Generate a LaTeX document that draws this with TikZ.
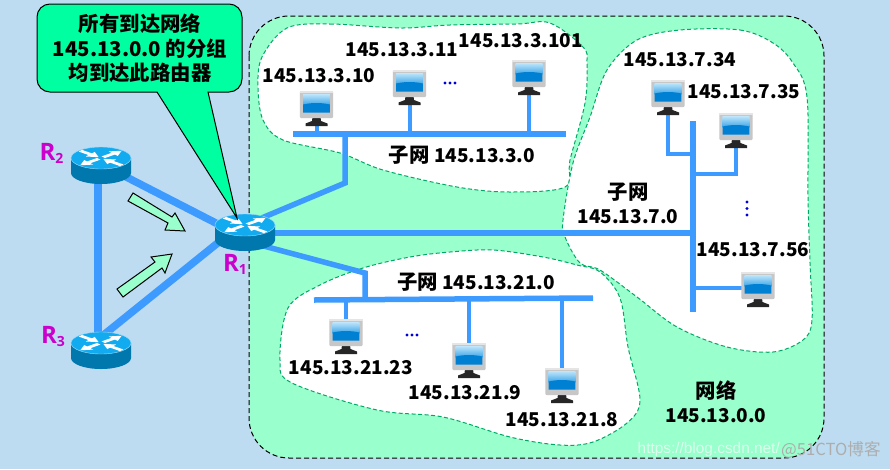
\documentclass[tikz,border=0pt]{standalone}
\usepackage{fontspec}
\setmainfont{Noto Sans CJK SC}
\newfontfamily\wmfont{Liberation Sans}
\newfontfamily\rfont{Open Sans}
\newcommand{\zhf}[1]{{\fontsize{20.4}{24}\selectfont #1}}
\definecolor{bgblue}{HTML}{BDDCF2}
\definecolor{netgreen}{HTML}{99FFCC}
\definecolor{blobline}{HTML}{00A866}
\definecolor{linkblue}{HTML}{3D9BFF}
\definecolor{calloutgreen}{HTML}{00FFA0}
\definecolor{rtop}{HTML}{12ABF0}
\definecolor{rbody}{HTML}{0078AE}
\definecolor{rmag}{HTML}{CC00CC}
\definecolor{scrtop}{HTML}{BFE6FB}
\definecolor{scrmid}{HTML}{3FA6E8}
\definecolor{scrlow}{HTML}{0080D2}
\definecolor{dotblue}{HTML}{0000D8}
\tikzset{
  x=1pt,y=-1pt,
  blob/.style={draw=blobline,fill=white,line width=1pt,dash pattern=on 4pt off 2.5pt},
  link/.style={draw=linkblue,line width=7.5pt},
  trunk/.style={draw=linkblue,line width=5.5pt},
  wire/.style={draw=linkblue,line width=4pt},
  lab/.style={inner sep=0pt,font=\fontsize{19}{24}\selectfont\bfseries,text=black,align=center},
  rlab/.style={inner sep=0pt,font=\fontsize{24}{24}\selectfont\rfont\bfseries,text=rmag},
  blockarrow/.style={draw=black,fill=netgreen,line width=1pt,line join=miter},
  dotmark/.style={fill=dotblue,draw=none},
  router/.pic={
    \fill[rbody] (-30,0) -- (-30,15) arc[start angle=180,end angle=360,x radius=30pt,y radius=11pt] -- (30,0) -- cycle;
    \draw[fill=rtop,line width=.4pt,draw=white!60!rtop] (0,0) ellipse[x radius=30pt,y radius=11pt];
    \foreach \a in {40,220}
      \fill[white,yscale=.42,rotate=\a] (3,-2.6) -- (16,-2.6) -- (16,-7) -- (27,0) -- (16,7) -- (16,2.6) -- (3,2.6) -- cycle;
    \foreach \a in {140,-40}
      \fill[white,yscale=.42,rotate=\a] (27,-2.6) -- (14,-2.6) -- (14,-7) -- (3,0) -- (14,7) -- (14,2.6) -- (27,2.6) -- cycle;
  },
  computer/.pic={
    \fill[black!85] (-4,26) -- (4,26) -- (4.5,30) -- (11,32.5) -- (11,35) -- (-11,35) -- (-11,32.5) -- (-4.5,30) -- cycle;
    \fill[black!22,rounded corners=1pt] (-16.7,0) rectangle (16.7,27);
    \fill[black!10] (-16.7,0) rectangle (16.7,1.5);
    \shade[top color=scrtop,bottom color=scrmid] (-13.3,3) rectangle (13.3,14);
    \fill[scrlow] (-13.3,13.5) .. controls (-5,11.5) and (5,11.5) .. (13.3,13.5) -- (13.3,21.5) -- (-13.3,21.5) -- cycle;
  }
}
\begin{document}
\begin{tikzpicture}
\path[use as bounding box,fill=bgblue] (0,0) rectangle (890,469);
% junctions and end points
\coordinate (R1) at (245,225);
\coordinate (R2) at (101,158);
\coordinate (R3) at (101,343);
\coordinate (R1a) at (245,238);
\coordinate (R2a) at (101,164);
\coordinate (R3a) at (101,337);
\coordinate (R1b) at (245,221);
\coordinate (R1c) at (245,233);
\coordinate (R1d) at (245,241);
\coordinate (t1) at (345,183);
\coordinate (t1b) at (345,134);
\coordinate (t2) at (693,233);
\coordinate (t3) at (365,273);
\coordinate (t3b) at (365,299);
\coordinate (b1L) at (293,134);
\coordinate (b1R) at (566,134);
\coordinate (b2T) at (693,121);
\coordinate (b2B) at (693,312);
\coordinate (b3L) at (314,300);
\coordinate (b3R) at (593,298);
\coordinate (j34) at (693,154);
\coordinate (j35) at (693,174);
\coordinate (j56) at (693,288);
\coordinate (l23a) at (98,170);
\coordinate (l23b) at (98,335);
\coordinate (pc1) at (316.5,91);
\coordinate (pc2) at (409.5,70);
\coordinate (pc3) at (529,60);
\coordinate (pc34) at (668,80);
\coordinate (pc35) at (736,113);
\coordinate (pc56) at (758,272);
\coordinate (pc23) at (346,319);
\coordinate (pc9) at (469,343);
\coordinate (pc8) at (562,368);
% network
\draw[fill=netgreen,draw=black,line width=1pt,dash pattern=on 5pt off 3pt,rounded corners=40pt] (249,16) rectangle (824,458);
% subnets
\draw[blob] plot[smooth cycle,tension=.55] coordinates {(287,28) (330,24) (400,28) (450,25) (517,24) (550,23) (583,47) (587,63) (585,103) (570,160) (565,187) (510,192) (457,187) (383,170) (340,153) (283,140) (263,120) (258,87) (262,57)};
\draw[blob] plot[smooth cycle,tension=.55] coordinates {(680,30) (740,30) (773,43) (793,63) (807,97) (808,197) (810,263) (812,320) (803,340) (773,352) (727,347) (677,327) (637,297) (600,270) (580,263) (565,237) (563,220) (573,163) (590,117) (607,70) (637,40)};
\draw[blob] plot[smooth cycle,tension=.55] coordinates {(363,268) (410,257) (450,252) (493,250) (543,257) (577,265) (600,272) (620,298) (628,347) (640,400) (627,423) (593,442) (560,445) (510,437) (443,417) (377,410) (292,383) (280,360) (288,308) (320,285)};
% links
\draw[link] (R2a) -- (R1a);
\draw[link] (R3a) -- (R1b);
\draw[link] (l23a) -- (l23b);
\draw[trunk,line join=miter] (R1) -- (t1) -- (t1b);
\draw[trunk] (R1c) -- (t2);
\draw[trunk,line join=miter] (R1d) -- (t3) -- (t3b);
\draw[trunk] (b1L) -- (b1R);
\draw[trunk] (b2T) -- (b2B);
\draw[trunk] (b3L) -- (b3R);
% station wires
\draw[wire] (pc1) -- (pc1 |- b1L);
\draw[wire] (pc2) -- (pc2 |- b1L);
\draw[wire] (pc3) -- (pc3 |- b1L);
\draw[wire] (pc34) -- (pc34 |- j34) -- (j34);
\draw[wire] (pc35) -- (pc35 |- j35) -- (j35);
\draw[wire] (pc56 |- j56) -- (j56);
\draw[wire] (pc23) -- (pc23 |- b3L);
\draw[wire] (pc9) -- (pc9 |- b3L);
\draw[wire] (pc8) -- (pc8 |- b3L);
% routers
\pic at (R1) {router};
\pic at (R2) {router};
\pic at (R3) {router};
% computers
\foreach \c in {pc1,pc2,pc3,pc34,pc35,pc56,pc23,pc9,pc8}
  \pic at (\c) {computer};
% block arrows
\draw[blockarrow] (133,193) -- (128,201) -- (168,223) -- (165,230) -- (185,231) -- (175,213) -- (172,217) -- cycle;
\draw[blockarrow] (117,289) -- (123,297) -- (162,268) -- (165,273) -- (172,254) -- (151,257) -- (155,262) -- cycle;
% callout
\draw[fill=calloutgreen,draw=black,line width=1pt,line join=miter]
  (50,4) -- (229,4) arc[start angle=90,end angle=0,radius=13pt] -- (242,79) arc[start angle=0,end angle=-90,radius=13pt]
  -- (208,92) -- (237,218) -- (157,92) -- (50,92) arc[start angle=270,end angle=180,radius=13pt] -- (37,17) arc[start angle=180,end angle=90,radius=13pt] -- cycle;
\node[lab,font=\fontsize{20.4}{24.5}\selectfont\bfseries] (callout) at (140,48.5) {所有到达网络\\145.13.0.0~的分组\\均到达此路由器};
% labels
\node[rlab] (lr2) at (51.5,153) {R\raisebox{-3pt}{\fontsize{14}{14}\selectfont 2}};
\node[rlab] (lr3) at (53,336) {R\raisebox{-3pt}{\fontsize{14}{14}\selectfont 3}};
\node[rlab] (lr1) at (235,264) {R\raisebox{-3pt}{\fontsize{14}{14}\selectfont 1}};
\node[lab] (a1) at (319,76) {145.13.3.10};
\node[lab] (a2) at (402,50) {145.13.3.11};
\node[lab] (a3) at (521,41) {145.13.3.101};
\node[lab] (s1) at (462,155) {\zhf{子网} 145.13.3.0};
\node[lab] (b1) at (680,60) {145.13.7.34};
\node[lab] (b2) at (744,92) {145.13.7.35};
\node[lab] (s2) at (628,203) {\zhf{子网}\\145.13.7.0};
\node[lab] (b3) at (753,250) {145.13.7.56};
\node[lab] (s3) at (476,282) {\zhf{子网} 145.13.21.0};
\node[lab] (c1) at (351,368) {145.13.21.23};
\node[lab] (c2) at (465,393) {145.13.21.9};
\node[lab] (c3) at (562,420) {145.13.21.8};
\node[lab] (net) at (716,401.5) {\zhf{网络}\\145.13.0.0};
% ellipsis dots
\foreach \p in {445,450,455} \fill[dotmark] (\p,83) circle[radius=1.6pt];
\foreach \p in {407,412,417} \fill[dotmark] (\p,335) circle[radius=1.6pt];
\foreach \p in {202,208.5,215} \fill[dotmark] (747,\p) circle[radius=1.6pt];
% watermark
\node[inner sep=0pt,anchor=east,text=white,opacity=.65,font=\fontsize{15.4}{16}\selectfont\wmfont] (wm1) at (780,450) {https://blog.csdn.net/};
\node[inner sep=0pt,anchor=west,text=black!32,font=\fontsize{16.6}{18}\selectfont] (wm2) at (781,450) {@51CTO博客};
\end{tikzpicture}
\end{document}
